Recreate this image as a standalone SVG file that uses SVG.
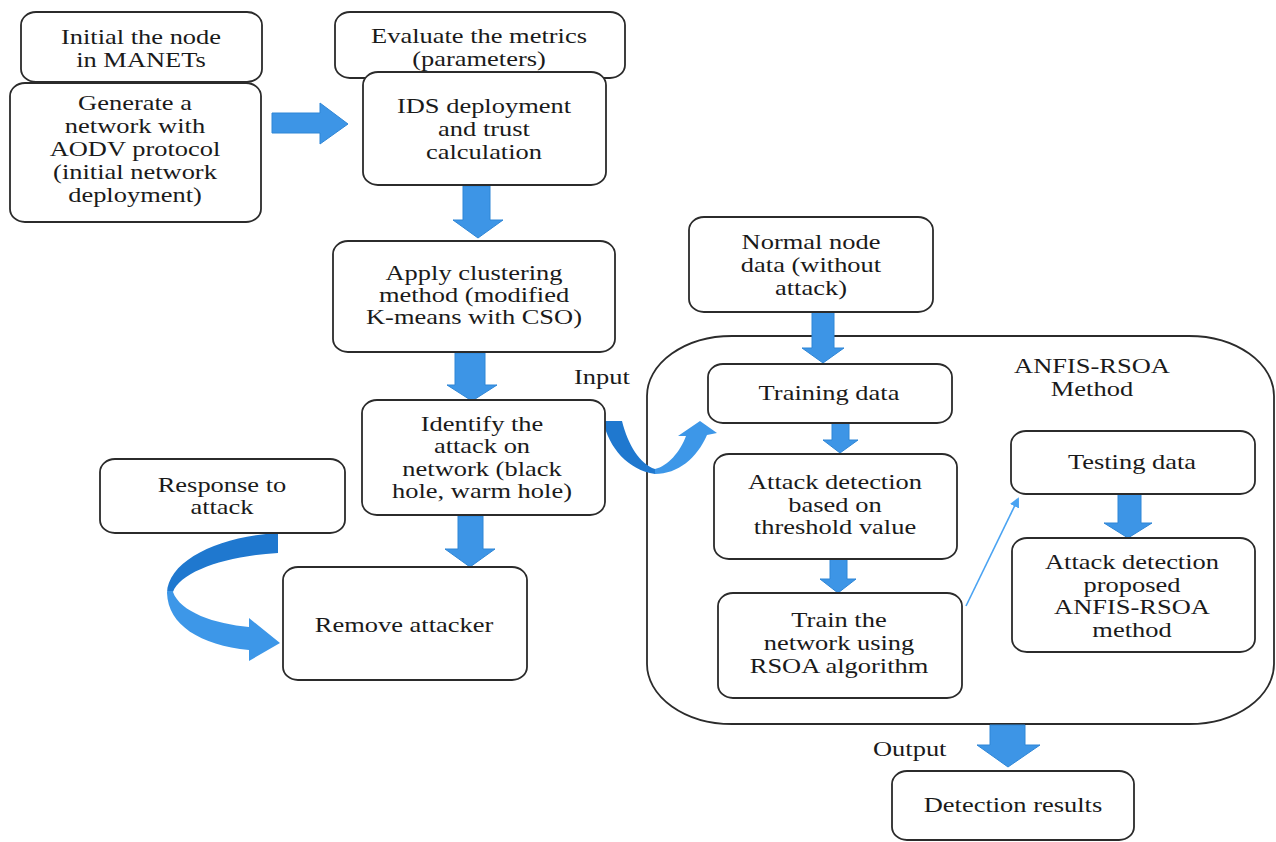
<svg xmlns="http://www.w3.org/2000/svg" width="1276" height="842" viewBox="0 0 1276 842">
<style>
.box{fill:#fff;stroke:#2b2b2b;stroke-width:1.8}
.cont{fill:none;stroke:#2b2b2b;stroke-width:1.8}
.t{font-family:'Liberation Serif','DejaVu Serif',serif;font-size:21px;fill:#1a1a1a;text-anchor:middle}
.ts{font-family:'Liberation Serif','DejaVu Serif',serif;font-size:21px;fill:#1a1a1a;text-anchor:start}
.ba{fill:#3d95e6;stroke:#2f86d6;stroke-width:1}
.thin{fill:none;stroke:#4aa3f2;stroke-width:1.6}
</style>
<defs>
<linearGradient id="gIn" gradientUnits="userSpaceOnUse" x1="600" y1="0" x2="720" y2="0">
<stop offset="0" stop-color="#1f78cf"/><stop offset="0.46" stop-color="#1f78cf"/><stop offset="0.46" stop-color="#3d97e8"/><stop offset="1" stop-color="#3d97e8"/>
</linearGradient>
<linearGradient id="gResp" gradientUnits="userSpaceOnUse" x1="0" y1="530" x2="0" y2="665">
<stop offset="0" stop-color="#1f78cf"/><stop offset="0.45" stop-color="#1f78cf"/><stop offset="0.45" stop-color="#3d97e8"/><stop offset="1" stop-color="#3d97e8"/>
</linearGradient>
<marker id="mThin" markerWidth="10" markerHeight="10" refX="8" refY="5" orient="auto" markerUnits="userSpaceOnUse" viewBox="0 0 10 10">
<path d="M0,0 L10,5 L0,10 Z" fill="#4aa3f2"/>
</marker>
</defs>
<g font-family="Liberation Serif, DejaVu Serif, serif">
<g id="container">
<rect class="cont" x="647" y="336" width="627" height="388" rx="85" ry="60"/>
<text class="t" font-family="Liberation Serif, serif" transform="matrix(1.26 0 0 1 1092 0)"><tspan x="0" y="373">ANFIS-RSOA</tspan><tspan x="0" y="396">Method</tspan></text>
</g>

<g id="connectors">
<polygon class="ba" points="272,113 320,113 320,103 348,124 320,144 320,133 272,133"/>
<polygon class="ba" points="463,186 490,186 490,220 503,220 478,238 453,220 463,220"/>
<polygon class="ba" points="455,353 485,353 485,385 497,385 472,401 447,385 455,385"/>
<polygon class="ba" points="458,516 483,516 483,549 495,549 470,567 445,549 458,549"/>
<polygon class="ba" points="812,312 834,312 834,348 844,348 823,363 802,348 812,348"/>
<polygon class="ba" points="832,423 849,423 849,440 858,440 840,453 823,440 832,440"/>
<polygon class="ba" points="830,559 847,559 847,579 856,579 838,593 820,579 830,579"/>
<polygon class="ba" points="1118,494 1141,494 1141,523 1152,523 1128,538 1104,523 1118,523"/>
<polygon class="ba" points="990,725 1025,725 1025,745 1040,745 1008,767 977,745 990,745"/>
<path fill="url(#gIn)" d="M603,421 L622,421 C628,445 640,464 655,469 C668,466 680,452 686,436 L678,436 L700,421 L717,433 L707,435 C697,458 678,474 655,474 C628,470 609,448 603,421 Z"/>
<path fill="url(#gResp)" d="M278,533 L278,553 C225,556 180,572 173,592 C180,612 215,624 249,627 L249,618 L280,643 L249,661 L249,650 C200,645 168,625 167,593 C168,560 220,536 278,533 Z"/>
<line class="thin" x1="966" y1="606" x2="1018" y2="499" marker-end="url(#mThin)"/>
</g>

<g id="n-initial">
<rect class="box" x="21" y="12" width="241" height="70" rx="15" ry="13"/>
<text class="t" font-family="Liberation Serif, serif" transform="matrix(1.26 0 0 1 141 0)"><tspan x="0" y="44">Initial the node</tspan><tspan x="0" y="67">in MANETs</tspan></text>
</g>
<g id="n-generate">
<rect class="box" x="10" y="83" width="251" height="139" rx="15" ry="13"/>
<text class="t" font-family="Liberation Serif, serif" transform="matrix(1.26 0 0 1 135 0)"><tspan x="0" y="110">Generate a</tspan><tspan x="0" y="133">network with</tspan><tspan x="0" y="156">AODV protocol</tspan><tspan x="0" y="179">(initial network</tspan><tspan x="0" y="202">deployment)</tspan></text>
</g>
<g id="n-evaluate">
<rect class="box" x="335" y="12" width="290" height="66" rx="15" ry="13"/>
<text class="t" font-family="Liberation Serif, serif" transform="matrix(1.26 0 0 1 479 0)"><tspan x="0" y="43">Evaluate the metrics</tspan><tspan x="0" y="66">(parameters)</tspan></text>
</g>
<g id="n-ids">
<rect class="box" x="363" y="72" width="243" height="113" rx="15" ry="13"/>
<text class="t" font-family="Liberation Serif, serif" transform="matrix(1.26 0 0 1 484 0)"><tspan x="0" y="113">IDS deployment</tspan><tspan x="0" y="136">and trust</tspan><tspan x="0" y="159">calculation</tspan></text>
</g>
<g id="n-apply">
<rect class="box" x="333" y="241" width="282" height="111" rx="15" ry="13"/>
<text class="t" font-family="Liberation Serif, serif" transform="matrix(1.26 0 0 1 474 0)"><tspan x="0" y="280">Apply clustering</tspan><tspan x="0" y="302">method (modified</tspan><tspan x="0" y="324">K-means with CSO)</tspan></text>
</g>
<g id="n-identify">
<rect class="box" x="362" y="400" width="243" height="115" rx="15" ry="13"/>
<text class="t" font-family="Liberation Serif, serif" transform="matrix(1.26 0 0 1 482 0)"><tspan x="0" y="431">Identify the</tspan><tspan x="0" y="453">attack on</tspan><tspan x="0" y="476">network (black</tspan><tspan x="0" y="498">hole, warm hole)</tspan></text>
</g>
<g id="n-response">
<rect class="box" x="100" y="459" width="245" height="74" rx="15" ry="13"/>
<text class="t" font-family="Liberation Serif, serif" transform="matrix(1.26 0 0 1 222 0)"><tspan x="0" y="492">Response to</tspan><tspan x="0" y="514">attack</tspan></text>
</g>
<g id="n-remove">
<rect class="box" x="283" y="567" width="244" height="113" rx="15" ry="13"/>
<text class="t" font-family="Liberation Serif, serif" transform="matrix(1.26 0 0 1 404 0)"><tspan x="0" y="632">Remove attacker</tspan></text>
</g>
<g id="n-normal">
<rect class="box" x="689" y="217" width="244" height="95" rx="15" ry="13"/>
<text class="t" font-family="Liberation Serif, serif" transform="matrix(1.26 0 0 1 811 0)"><tspan x="0" y="249">Normal node</tspan><tspan x="0" y="272">data (without</tspan><tspan x="0" y="295">attack)</tspan></text>
</g>
<g id="n-training">
<rect class="box" x="708" y="364" width="244" height="59" rx="15" ry="13"/>
<text class="t" font-family="Liberation Serif, serif" transform="matrix(1.26 0 0 1 829 0)"><tspan x="0" y="400">Training data</tspan></text>
</g>
<g id="n-threshold">
<rect class="box" x="714" y="454" width="243" height="105" rx="15" ry="13"/>
<text class="t" font-family="Liberation Serif, serif" transform="matrix(1.26 0 0 1 835 0)"><tspan x="0" y="489">Attack detection</tspan><tspan x="0" y="512">based on</tspan><tspan x="0" y="534">threshold value</tspan></text>
</g>
<g id="n-train">
<rect class="box" x="718" y="593" width="244" height="105" rx="15" ry="13"/>
<text class="t" font-family="Liberation Serif, serif" transform="matrix(1.26 0 0 1 839 0)"><tspan x="0" y="627">Train the</tspan><tspan x="0" y="650">network using</tspan><tspan x="0" y="673">RSOA algorithm</tspan></text>
</g>
<g id="n-testing">
<rect class="box" x="1011" y="431" width="244" height="63" rx="15" ry="13"/>
<text class="t" font-family="Liberation Serif, serif" transform="matrix(1.26 0 0 1 1132 0)"><tspan x="0" y="469">Testing data</tspan></text>
</g>
<g id="n-proposed">
<rect class="box" x="1012" y="538" width="243" height="114" rx="15" ry="13"/>
<text class="t" font-family="Liberation Serif, serif" transform="matrix(1.26 0 0 1 1132 0)"><tspan x="0" y="569">Attack detection</tspan><tspan x="0" y="592">proposed</tspan><tspan x="0" y="614">ANFIS-RSOA</tspan><tspan x="0" y="637">method</tspan></text>
</g>
<g id="n-detection">
<rect class="box" x="892" y="771" width="242" height="69" rx="15" ry="13"/>
<text class="t" font-family="Liberation Serif, serif" transform="matrix(1.26 0 0 1 1013 0)"><tspan x="0" y="812">Detection results</tspan></text>
</g>
<g id="labels">
<text class="ts" font-family="Liberation Serif, serif" transform="matrix(1.26 0 0 1 574 0)" x="0" y="384">Input</text>
<text class="ts" font-family="Liberation Serif, serif" transform="matrix(1.26 0 0 1 873 0)" x="0" y="756">Output</text>
</g>
</g>
</svg>
